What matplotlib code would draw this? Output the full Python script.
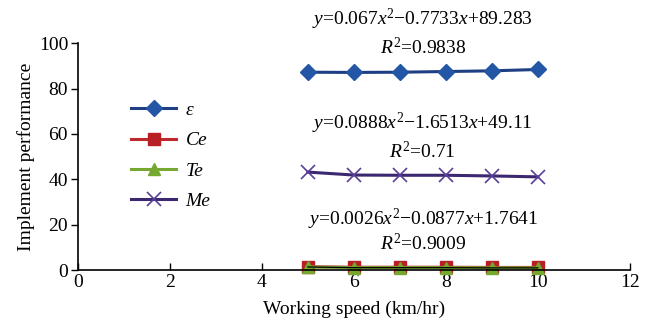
import matplotlib.pyplot as plt

# data
speed = [5, 6, 7, 8, 9, 10]
eps_vals = [87.2, 87.1, 87.2, 87.5, 87.8, 88.4]
ce_vals = [1.5, 1.3, 1.3, 1.3, 1.2, 1.2]
te_vals = [1.4, 1.1, 1.1, 1.1, 1.0, 1.0]
me_vals = [43.2, 41.9, 41.8, 41.8, 41.5, 41.1]

series_names = ["ε", "Ce", "Te", "Me"]
fit_texts = [
    (7.5, 110.5, r"$y$=0.067$x^2$−0.7733$x$+89.283"),
    (7.5, 98.0, r"$R^2$=0.9838"),
    (7.5, 64.8, r"$y$=0.0888$x^2$−1.6513$x$+49.11"),
    (7.5, 52.4, r"$R^2$=0.71"),
    (7.5, 22.3, r"$y$=0.0026$x^2$−0.0877$x$+1.7641"),
    (7.5, 11.8, r"$R^2$=0.9009"),
]

plt.rcParams.update({
    "font.family": "serif",
    "font.serif": ["Liberation Serif", "DejaVu Serif"],
    "mathtext.fontset": "custom",
    "mathtext.rm": "Liberation Serif",
    "mathtext.it": "Liberation Serif:italic",
})

fig = plt.figure(figsize=(6.54, 3.22), dpi=100)
ax = fig.add_axes([0.119, 0.161, 0.844, 0.705])

ax.plot(speed, eps_vals, color="#1f3f85", lw=2.2, marker="D", ms=8,
        mfc="#2456a6", mec="#2456a6", label=series_names[0], clip_on=False, zorder=3)
ax.plot(speed, ce_vals, color="#c0282d", lw=2.2, marker="s", ms=8.5,
        mfc="#b82025", mec="#b82025", label=series_names[1], clip_on=False, zorder=3)
ax.plot(speed, te_vals, color="#78a832", lw=2.2, marker="^", ms=8.5,
        mfc="#74a82e", mec="#74a82e", label=series_names[2], clip_on=False, zorder=4)
ax.plot(speed, me_vals, color="#3b2870", lw=2.2, marker="x", ms=10, mew=1.2,
        mec="#5a3f99", label=series_names[3], clip_on=False, zorder=3)
ax.plot(speed, te_vals, color="black", lw=0.9, clip_on=False, zorder=5)

for x, y, s in fit_texts:
    ax.text(x, y, s, ha="center", va="center", fontsize=14, clip_on=False)

ax.set_xlim(0, 12)
ax.set_ylim(0, 100)
ax.set_xticks(range(0, 13, 2))
ax.set_yticks(range(0, 101, 20))
ax.tick_params(axis="x", direction="in", length=5, width=1, labelsize=14, pad=3)
ax.tick_params(axis="y", direction="out", length=5, width=1, labelsize=14, pad=2)
for side in ("top", "right"):
    ax.spines[side].set_visible(False)
for side in ("left", "bottom"):
    ax.spines[side].set_linewidth(1.2)
    ax.spines[side].set_zorder(6)

ax.set_xlabel("Working speed (km/hr)", fontsize=14, labelpad=7)
ax.set_ylabel("Implement performance", fontsize=14, labelpad=3)

leg = ax.legend(loc="upper left", bbox_to_anchor=(0.065, 0.82), frameon=False,
                prop={"style": "italic", "size": 14}, handlelength=2.3,
                labelspacing=0.65, handletextpad=0.5)

fig.savefig("out.png", dpi=100)
